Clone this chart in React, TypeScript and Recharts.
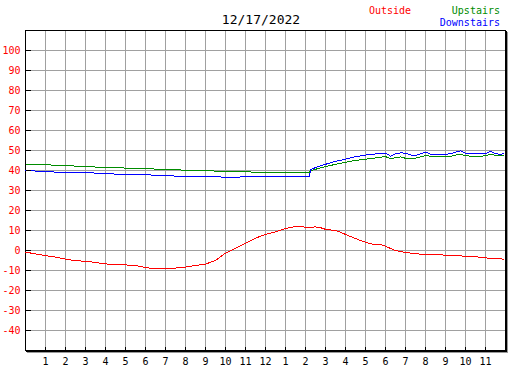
import { CartesianGrid, Line, LineChart, ReferenceArea, XAxis, YAxis } from 'recharts';

const HOURS = [
  0, 0.5, 1, 1.5, 2, 2.5, 3, 3.5, 4, 4.5, 5, 5.5, 6, 6.5, 7, 7.5, 8, 8.5, 9, 9.5, 10, 10.5, 11, 11.5, 12, 12.5, 13, 13.5, 14,
  14.2,
  14.25, 14.5, 14.75, 15, 15.25, 15.5, 15.75, 16, 16.25, 16.5, 16.75, 17, 17.25, 17.5, 17.75,
  18, 18.25, 18.5, 18.75, 19, 19.25, 19.5, 19.75, 20, 20.25, 20.5, 20.75, 21, 21.25, 21.5, 21.75,
  22, 22.25, 22.5, 22.75, 23, 23.25, 23.5, 23.75,
  23.92,
];

const OUTSIDE = [
  -0.8, -1.7, -2.6, -3.3, -4.3, -5.2, -5.3, -6, -6.7, -7.2, -7.2, -7.5, -8.5, -9.2, -9, -8.8, -8.3, -7.5, -6.8, -5, -1.3, 1.2, 3.7, 6.2, 8, 9.3, 11, 12, 11.7,
  11.6,
  11.6, 11.8, 11.4, 10.6, 10.3, 10, 9.2, 8, 7, 6, 5, 4.2, 3.4, 3, 2.9,
  2.2, 1, 0, -0.5, -1, -1.3, -1.6, -1.8, -2, -2.2, -2.2, -2.2, -2.3, -2.5, -2.6, -2.7,
  -2.9, -3, -3.2, -3.3, -3.6, -4, -4.1, -4.2,
  -4.3,
];

const UPSTAIRS = [
  43.2, 43.2, 42.8, 42.7, 42.5, 42.2, 42.2, 41.7, 41.7, 41.5, 41.2, 41.2, 41, 40.7, 40.7, 40.3, 40.2, 40.2, 40, 39.7, 39.7, 39.7, 39.3, 39.2, 39.2, 39.2, 39.2, 39.2, 39.2,
  39.2,
  39.8, 40.6, 41.3, 41.9, 42.5, 43.1, 43.6, 44.1, 44.6, 45, 45.4, 45.7, 45.9, 46.3, 46.6,
  47, 45.8, 46.4, 46.8, 46.1, 46, 46.2, 46.8, 47.5, 47.1, 47, 47, 47, 47.1, 47.7, 48.2,
  47.4, 47.2, 47.2, 47.2, 47.3, 48.2, 47.6, 47.3,
  47.4,
];

const DOWNSTAIRS = [
  40.2, 39.7, 39.6, 39.2, 39.2, 39.2, 39, 38.7, 38.6, 38.2, 38.2, 38.2, 37.8, 37.7, 37.5, 37.2, 37.2, 37.2, 37, 36.8, 36.7, 36.7, 36.8, 36.8, 37, 37, 37, 37.2, 37.2,
  37.2,
  40.3, 41.5, 42.4, 43.1, 43.8, 44.6, 45.1, 45.7, 46.3, 46.9, 47.3, 47.7, 48, 48.3, 48.5,
  48.7, 47.2, 48.3, 48.8, 48.7, 47.8, 47.4, 48.3, 49.2, 48.2, 47.8, 47.8, 48.2, 48.3, 49.2, 49.8,
  48.6, 48.3, 48.3, 48.3, 48.4, 49.6, 48.5, 47.9,
  48.7,
];

const X_TICKS = [1, 2, 3, 4, 5, 6, 7, 8, 9, 10, 11, 12, 13, 14, 15, 16, 17, 18, 19, 20, 21, 22, 23];
const Y_TICKS = [-40, -30, -20, -10, 0, 10, 20, 30, 40, 50, 60, 70, 80, 90, 100];

const rows = HOURS.map((hour, i) => ({
  hour,
  outside: OUTSIDE[i],
  upstairs: UPSTAIRS[i],
  downstairs: DOWNSTAIRS[i],
}));

const FONT = '"DejaVu Sans Mono", "Liberation Mono", monospace';

// tick marks point into the plot, labels sit outside
const YTick = ({ x, y, payload }: any) => (
  <g>
    <line x1={x + 5} x2={x + 10} y1={y} y2={y} stroke="#000" shapeRendering="crispEdges" />
    <text x={x} y={y + 3.5} textAnchor="end" fill="#ff0000" fontSize={10} fontFamily={FONT}>
      {payload.value}
    </text>
  </g>
);

const XTick = ({ x, y, payload }: any) => {
  const h = payload.value;
  return (
    <g>
      <line x1={x} x2={x} y1={y - 5} y2={y - 9} stroke="#000" shapeRendering="crispEdges" />
      <text x={x} y={y + 9.5} textAnchor="middle" fill="#000" fontSize={10} fontFamily={FONT}>
        {h <= 12 ? h : h - 12}
      </text>
    </g>
  );
};

export default function App() {
  return (
    <div style={{ position: 'absolute', left: 0, top: 0, width: 527, height: 370, background: '#fff', fontFamily: FONT }}>
      <div
        style={{
          position: 'absolute',
          left: 25,
          top: 30,
          width: 481,
          height: 321,
          background: '#fff',
          boxShadow: '1px 1px 0 #000, 2px 2px 0 #9a9a9a',
        }}
      />
      <div style={{ position: 'absolute', left: 0, top: 0 }}>
        <LineChart width={527} height={370} data={rows} margin={{ top: 30.5, right: 21.5, bottom: 0, left: 0 }}>
          <CartesianGrid stroke="#a0a0a0" shapeRendering="crispEdges" />
          <XAxis
            dataKey="hour"
            type="number"
            domain={[0, 24]}
            ticks={X_TICKS}
            interval={0}
            height={19.5}
            tickSize={3}
            tickMargin={2}
            tickLine={false}
            axisLine={false}
            tick={<XTick />}
          />
          <YAxis
            type="number"
            domain={[-50, 110]}
            ticks={Y_TICKS}
            interval={0}
            width={25.5}
            tickSize={3}
            tickMargin={2}
            tickLine={false}
            axisLine={false}
            tick={<YTick />}
          />
          <ReferenceArea x1={0} x2={24} y1={-50} y2={110} fill="none" fillOpacity={0} stroke="#000" strokeWidth={1} shapeRendering="crispEdges" />
          <Line dataKey="outside" stroke="#ff0000" strokeWidth={1} dot={false} isAnimationActive={false} shapeRendering="crispEdges" />
          <Line dataKey="upstairs" stroke="#008c00" strokeWidth={1} dot={false} isAnimationActive={false} shapeRendering="crispEdges" />
          <Line dataKey="downstairs" stroke="#0000ff" strokeWidth={1} dot={false} isAnimationActive={false} shapeRendering="crispEdges" />
        </LineChart>
      </div>
      <div style={{ position: 'absolute', left: 261, top: 12, transform: 'translateX(-50%)', fontSize: 13, lineHeight: '15px', color: '#000', whiteSpace: 'nowrap' }}>
        12/17/2022
      </div>
      <div style={{ position: 'absolute', left: 369, top: 4, fontSize: 10, lineHeight: '13px', color: '#ff0000' }}>Outside</div>
      <div style={{ position: 'absolute', right: 27, top: 4, fontSize: 10, lineHeight: '13px', color: '#008c00', textAlign: 'right' }}>Upstairs</div>
      <div style={{ position: 'absolute', right: 27, top: 16, fontSize: 10, lineHeight: '13px', color: '#0000ff', textAlign: 'right' }}>Downstairs</div>
    </div>
  );
}
